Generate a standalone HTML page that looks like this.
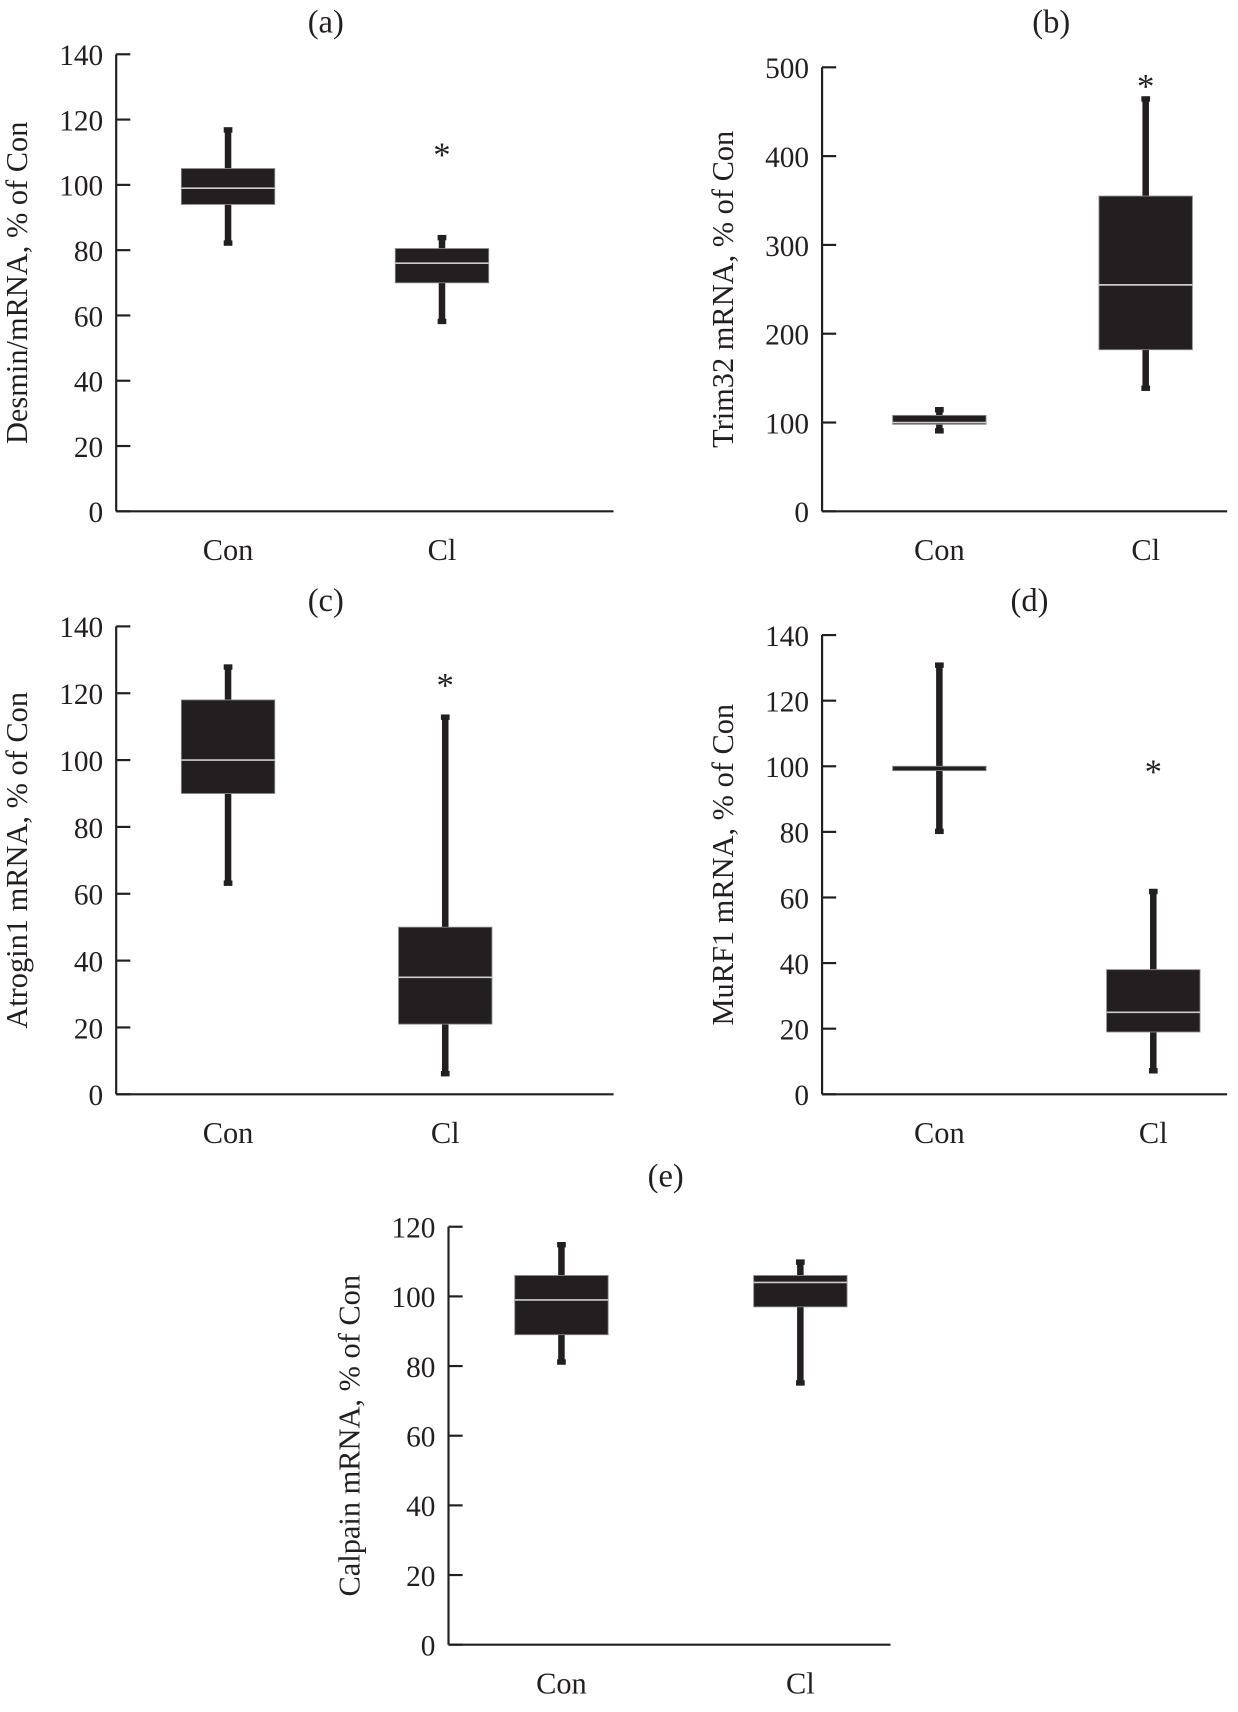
<!DOCTYPE html>
<html><head><meta charset="utf-8"><style>
html,body{margin:0;padding:0;background:#fff}
svg{display:block}
text{font-family:"Liberation Serif",serif;fill:#231f20}
</style></head><body>
<svg id="fig" width="1238" height="1712" viewBox="0 0 1140 1577" preserveAspectRatio="none" xmlns="http://www.w3.org/2000/svg"></svg>
<script>
const panelIds = ["a","b","c","d","e"];
const yLabels = ["Desmin/mRNA, % of Con","Trim32 mRNA, % of Con","Atrogin1 mRNA, % of Con","MuRF1 mRNA, % of Con","Calpain mRNA, % of Con"];
const yMaxes = [140,500,140,140,120];
const yStepVals = [20,100,20,20,20];
const categories = ["Con","Cl"];
// per panel: [whiskerLow, q1, median, q3, whiskerHigh] for Con and Cl
const conStats = [[82,94,99,105,117],[90,98,100,108,115],[63,90,100,118,128],[80,99,99.5,100,131],[81,89,99,106,115]];
const clStats = [[58,70,76,80.5,84],[138,182,255,355,465],[6,21,35,50,113],[7,19,25,38,62],[75,97,104,106,110]];
const starVals = [111,485,124,100,null];

const layout = [
 {ax:107,top:50,bot:471,xend:565,cx:[210,407],tx:300,ty:30},
 {ax:757,top:62,bot:471,xend:1130,cx:[865,1055],tx:968,ty:30},
 {ax:107,top:577,bot:1008,xend:565,cx:[210,410],tx:300,ty:563},
 {ax:757,top:585,bot:1008,xend:1130,cx:[865,1062],tx:948,ty:563},
 {ax:413,top:1130,bot:1515,xend:820,cx:[517,737],tx:613,ty:1093}
];
const NS="http://www.w3.org/2000/svg";
const svg=document.getElementById('fig');
function mk(tag,attrs,parent){const e=document.createElementNS(NS,tag);for(const k in attrs)e.setAttribute(k,attrs[k]);(parent||svg).appendChild(e);return e;}
panelIds.forEach((pid,i)=>{
 const L=layout[i];
 const g=mk('g',{});
 
 
 const y=v=>L.bot-(v/yMaxes[i])*(L.bot-L.top);
 const t=mk('text',{x:L.tx,y:L.ty,'font-size':30,'text-anchor':'middle'},g);t.textContent='('+pid+')';
 
 
 const ya=mk('line',{x1:L.ax,y1:L.top,x2:L.ax,y2:L.bot,stroke:'#231f20','stroke-width':2},g);
 
 
 const xa=mk('line',{x1:L.ax,y1:L.bot,x2:L.xend,y2:L.bot,stroke:'#231f20','stroke-width':2},g);
 
 
 for(let v=0;v<=yMaxes[i];v+=yStepVals[i]){
  mk('line',{x1:L.ax,y1:y(v),x2:L.ax+13,y2:y(v),stroke:'#231f20','stroke-width':2},g);
  const tl=mk('text',{x:L.ax-12,y:y(v)+10,'font-size':27,'text-anchor':'end'},g);tl.textContent=v;
  
  
 }
 const yl=mk('text',{x:0,y:0,'font-size':28,'text-anchor':'middle',transform:`translate(${L.ax-82},${(L.top+L.bot)/2}) rotate(-90)`},g);
 yl.textContent=yLabels[i];
 
 
 [conStats[i],clStats[i]].forEach((s,j)=>{
  const cx=L.cx[j];
  const xl=mk('text',{x:cx,y:L.bot+45,'font-size':28,'text-anchor':'middle'},g);xl.textContent=categories[j];
  
  
  const bx=mk('g',{},g);
  
  
  mk('line',{x1:cx,y1:y(s[0]),x2:cx,y2:y(s[4]),stroke:'#231f20','stroke-width':6},bx);
  mk('rect',{x:cx-4,y:y(s[4])-2,width:8,height:5,fill:'#231f20'},bx);
  mk('rect',{x:cx-4,y:y(s[0])-3,width:8,height:5,fill:'#231f20'},bx);
  const h=Math.max(y(s[1])-y(s[3]),4);
  mk('rect',{x:cx-43,y:y(s[3]),width:86,height:h,fill:'#231f20',stroke:'#888','stroke-width':0.8},bx);
  if(y(s[1])-y(s[3])>4) mk('line',{x1:cx-43,y1:y(s[2]),x2:cx+43,y2:y(s[2]),stroke:'#ccc','stroke-width':1.5},bx);
 });
 if(starVals[i]!==null){
  const st=mk('text',{x:L.cx[1],y:y(starVals[i])+16,'font-size':32,'text-anchor':'middle'},g);st.textContent='*';
  
  
 }
});
</script>
</body></html>
